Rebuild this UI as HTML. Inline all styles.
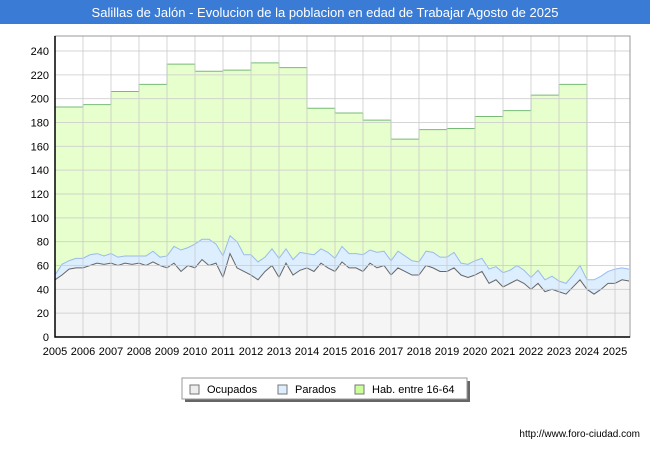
<!DOCTYPE html>
<html><head><meta charset="utf-8"><style>
body{margin:0;background:#fff;font-family:"Liberation Sans",sans-serif}
</style></head><body>
<svg width="650" height="450" xmlns="http://www.w3.org/2000/svg" id="svg" font-family="Liberation Sans, sans-serif">
<rect x="0" y="0" width="650" height="450" fill="#fff"/>
<rect x="0" y="0" width="650" height="24" fill="#3a7bd5"/>
<text x="325" y="17" text-anchor="middle" fill="#fff" font-size="13">Salillas de Jalón - Evolucion de la poblacion en edad de Trabajar Agosto de 2025</text>
<rect x="55" y="36" width="575" height="301" fill="#fff"/>
<g id="series"></g>
<g id="grid"></g>
<g id="axes"></g>
<g>
<rect x="185" y="381" width="285" height="21" fill="#666"/>
<rect x="182" y="378" width="285" height="21" fill="#fff" stroke="#999"/>
<rect x="190" y="385" width="9" height="9" fill="#eee" stroke="#777"/>
<text x="207" y="393" font-size="11">Ocupados</text>
<rect x="278" y="385" width="9" height="9" fill="#ddeeff" stroke="#777"/>
<text x="295" y="393" font-size="11">Parados</text>
<rect x="355" y="385" width="9" height="9" fill="#ccff99" stroke="#777"/>
<text x="372" y="393" font-size="11">Hab. entre 16-64</text>
</g>
<text x="640" y="437" text-anchor="end" font-size="10" fill="#000">http://www.foro-ciudad.com</text>
</svg>
<script>
const habYears=[2005,2006,2007,2008,2009,2010,2011,2012,2013,2014,2015,2016,2017,2018,2019,2020,2021,2022,2023];
const habValues=[193,195,206,212,229,223,224,230,226,192,188,182,166,174,175,185,190,203,212];
const ocupados=[48,52,57,58,58,60,62,61,62,60,62,61,62,60,63,60,58,62,55,60,58,65,60,62,50,70,58,55,52,48,55,60,50,62,52,56,58,55,62,58,55,63,58,58,55,62,58,60,52,58,55,52,52,60,58,55,55,58,52,50,52,55,45,48,42,45,48,45,40,45,38,40,38,36,42,48,40,36,40,45,45,48,47];
const parados=[4,9,7,8,8,9,8,7,8,7,6,7,6,8,9,7,10,14,18,15,20,17,22,16,18,15,22,14,17,15,12,14,16,12,13,15,12,14,12,13,11,13,12,12,14,11,13,12,12,14,13,12,11,12,13,12,12,13,10,11,12,11,12,11,12,11,12,11,10,11,10,11,9,9,10,12,8,12,11,10,12,10,10];
const yTicks=[0,20,40,60,80,100,120,140,160,180,200,220,240];
const xTicks=[2005,2006,2007,2008,2009,2010,2011,2012,2013,2014,2015,2016,2017,2018,2019,2020,2021,2022,2023,2024,2025];
const NS="http://www.w3.org/2000/svg";
const X0=55,X1=630,Y0=337;
const xs=t=>X0+(t-2005)*28;
const ys=v=>Y0-v*286/240;
function mk(tag,attrs,parent){const e=document.createElementNS(NS,tag);for(const k in attrs)e.setAttribute(k,attrs[k]);document.getElementById(parent).appendChild(e);return e;}
yTicks.forEach(v=>{const l=mk('line',{x1:X0,x2:X1,y1:ys(v),y2:ys(v),stroke:'#ccc','stroke-opacity':0.8},'grid');


const t=mk('text',{x:X0-6,y:ys(v)+4,'text-anchor':'end','font-size':11},'axes');t.textContent=v;

});
xTicks.forEach(y=>{const l=mk('line',{x1:xs(y),x2:xs(y),y1:36,y2:Y0,stroke:'#ccc','stroke-opacity':0.8},'grid');


const t=mk('text',{x:xs(y),y:Y0+18,'text-anchor':'middle','font-size':11},'axes');t.textContent=y;

});
let hd='M'+xs(habYears[0])+','+Y0;
habYears.forEach((y,i)=>{hd+=' L'+xs(y)+','+ys(habValues[i])+' L'+xs(y+1)+','+ys(habValues[i]);});
const hx=xs(habYears[habYears.length-1]+1);
const hab=mk('path',{d:hd+' L'+hx+','+Y0+' Z',fill:'#e6ffcc',stroke:'#77bb77','stroke-width':1},'series');


const tq=i=>2005+i*0.25;
let topPath='',occPath='';
ocupados.forEach((o,i)=>{topPath+=(i?' L':'M')+xs(tq(i))+','+ys(o+parados[i]);occPath+=(i?' L':'M')+xs(tq(i))+','+ys(o);});
const lastX=xs(tq(ocupados.length-1));
const pa=mk('path',{d:topPath+' L'+lastX+','+Y0+' L'+X0+','+Y0+' Z',fill:'#ddeeff'},'series');


const pl=mk('path',{d:topPath,fill:'none',stroke:'#99bbee','stroke-width':1},'series');


const oa=mk('path',{d:occPath+' L'+lastX+','+Y0+' L'+X0+','+Y0+' Z',fill:'#f5f5f5'},'series');


const ol=mk('path',{d:occPath,fill:'none',stroke:'#666','stroke-width':1},'series');


const fr=mk('rect',{x:X0,y:36,width:X1-X0,height:Y0-36,fill:'none',stroke:'#999'},'axes');


const ax=mk('path',{d:'M'+X0+',36 L'+X0+','+Y0+' L'+X1+','+Y0,fill:'none',stroke:'#000','stroke-width':1.5},'axes');


</script>
</body></html>
